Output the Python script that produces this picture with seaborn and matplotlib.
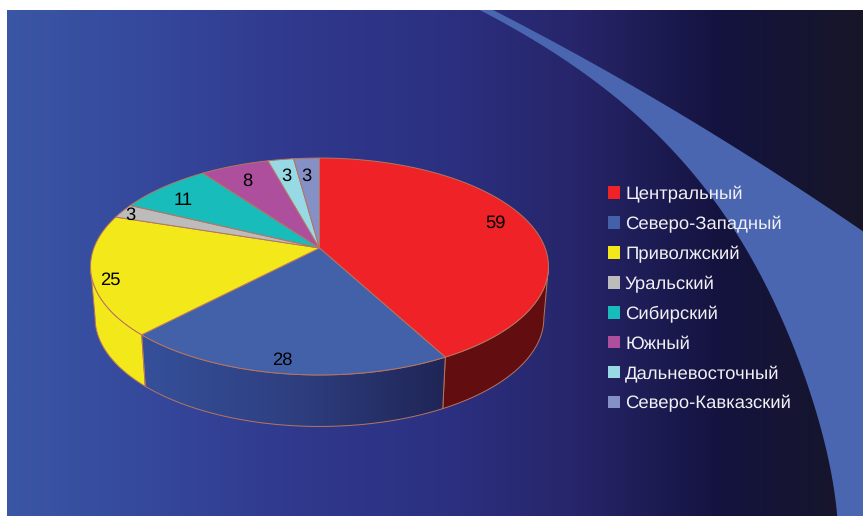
import numpy as np
import matplotlib
matplotlib.use('Agg')
import matplotlib.pyplot as plt
from matplotlib.patches import Patch, Polygon
import seaborn as sns

districts = ['Центральный', 'Северо-Западный', 'Приволжский', 'Уральский',
             'Сибирский', 'Южный', 'Дальневосточный', 'Северо-Кавказский']
counts = [59, 28, 25, 3, 11, 8, 3, 3]
slice_colors = ['#ee2227', '#4361a9', '#f3e91a', '#bcbcbc',
                '#18bcbb', '#ad4f9c', '#98d9e6', '#8590c6']
wall_colors = {0: '#620d10', 2: '#f3e91a'}
label_rho = [0.83, 0.9, 0.92, 0.95, 0.82, 0.8, 0.8, 0.8]
label_dx = [0, -5, 0, -1, -6, -2, -1, -2]
label_dy = [-4, 1, 8, 2, 3, 1, 1, 2]

background_stops = ['#3b56a5', '#35489c', '#30398d', '#2c3182', '#27256a', '#14133f', '#171628']
band_color = '#4a66b0'
edge_color = '#b8755f'

# perspective of the pie disc, in pixels of the picture
apex_x, apex_y = 319.5, 248
scale_x, scale_y, persp = 225.6, 105.3, 0.1705
depth = 51.5


def project(theta, rho=1.0, lower=False):
    u, v = rho * np.sin(theta), rho * np.cos(theta)
    w = 1 + persp * v
    x = scale_x * (0.98 if lower else 1.0) * u / w
    y = -scale_y * v / w
    return apex_x + x, apex_y + y + (depth if lower else 0)


sns.set_theme(style='white')
plt.rcParams['font.family'] = ['Liberation Sans', 'DejaVu Sans']
plt.rcParams['text.hinting'] = 'no_hinting'
plt.rcParams['text.hinting_factor'] = 8

fig = plt.figure(figsize=(8.63, 5.16), dpi=100, facecolor='white')
ax = fig.add_axes([0, 0, 1, 1])
ax.axis('off')

# background
bg_cmap = sns.blend_palette(background_stops, n_colors=256, as_cmap=True)
ax.imshow(np.linspace(0, 1, 512).reshape(1, -1), cmap=bg_cmap, aspect='auto',
          extent=(7, 863, 516, 10), zorder=0)

# curved band on the right
upper_fit = np.polyfit([493, 593, 693, 793, 863], [10, 63, 123, 183, 232], 2)
lower_fit = np.polyfit([10, 57, 107, 173, 243, 310, 393, 450, 516],
                       [480, 560, 627, 693, 743, 777, 810, 827, 837], 4)
upper_x = np.linspace(493, 863, 80)
lower_y = np.linspace(516, 10, 120)
band_x = np.r_[upper_x, 863, np.polyval(lower_fit, lower_y)]
band_y = np.r_[np.polyval(upper_fit, upper_x), 516, lower_y]
ax.add_patch(Polygon(np.column_stack([band_x, band_y]), closed=True, fc=band_color, ec='none', zorder=1))

edges = np.cumsum([0] + counts) / sum(counts) * 2 * np.pi
# the disc is widest a little in front of its middle because of the perspective
side_angle = np.arcsin(persp)

# side walls, only the near part of the disc shows them
for i in [0, 1, 2]:
    start = max(edges[i], np.pi / 2 + side_angle)
    end = min(edges[i + 1], 1.5 * np.pi - side_angle)
    t = np.linspace(start, end, 120)
    tx, ty = project(t)
    bx, by = project(t, lower=True)
    pts = np.column_stack([np.r_[tx, bx[::-1]], np.r_[ty, by[::-1]]])
    if i in wall_colors:
        ax.add_patch(Polygon(pts, closed=True, fc=wall_colors[i], ec=edge_color, lw=0.7, zorder=2))
    else:
        wall_cmap = sns.blend_palette(['#35509a', '#2e3f80', '#1f2556'], n_colors=256, as_cmap=True)
        poly = Polygon(pts, closed=True, fc='none', ec=edge_color, lw=0.7, zorder=3)
        ax.add_patch(poly)
        im = ax.imshow(np.linspace(0, 1, 256).reshape(1, -1), cmap=wall_cmap, aspect='auto',
                       extent=(pts[:, 0].min(), pts[:, 0].max(), pts[:, 1].max(), pts[:, 1].min()), zorder=2)
        im.set_clip_path(poly)

# top of the pie
for i, value in enumerate(counts):
    t = np.linspace(edges[i], edges[i + 1], 100)
    x, y = project(t)
    ax.fill(np.r_[apex_x, x], np.r_[apex_y, y], fc=slice_colors[i], ec=edge_color, lw=0.7, zorder=4)
    lx, ly = project((edges[i] + edges[i + 1]) / 2, rho=label_rho[i])
    ax.text(lx + label_dx[i], ly + label_dy[i], str(value), fontsize=13.2, color='black',
            ha='center', va='center', zorder=5)

ax.set_xlim(0, 863)
ax.set_ylim(516, 0)

handles = [Patch(fc=c, ec='none') for c in slice_colors]
ax.legend(handles, districts, loc='upper left', bbox_to_anchor=(608, 185.5), bbox_transform=ax.transData,
          frameon=False, fontsize=13.3, labelcolor='#f0f0f5', handlelength=0.65, handleheight=0.65,
          handletextpad=0.27, labelspacing=0.70, borderpad=0, borderaxespad=0)

fig.savefig('out.png', dpi=100)
